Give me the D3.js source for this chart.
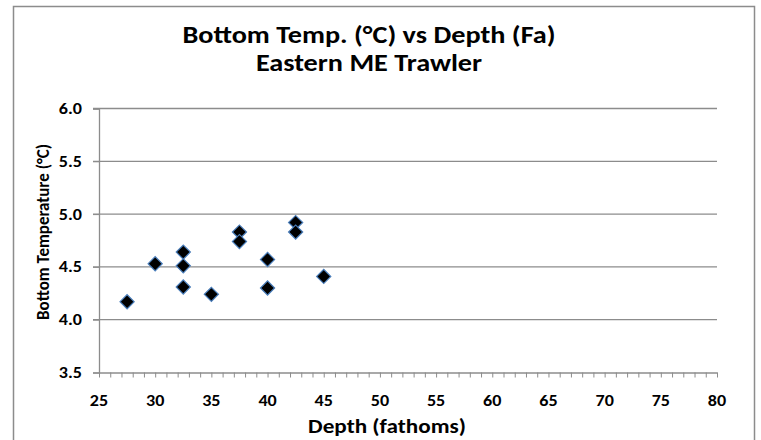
<!DOCTYPE html>
<html>
<head>
<meta charset="utf-8">
<script src="https://cdn.jsdelivr.net/npm/d3@7"></script>
<style>
  body { margin: 0; background: #fff; }
  text { font-family: Carlito, Calibri, "Open Sans", sans-serif; font-weight: bold; fill: #000; }
</style>
</head>
<body>
<svg width="761" height="440"></svg>
<script>
// data
const depth = [27.5, 30, 32.5, 32.5, 32.5, 35, 37.5, 37.5, 40, 40, 42.5, 42.5, 45];
const temp  = [4.17, 4.53, 4.64, 4.51, 4.31, 4.24, 4.83, 4.74, 4.57, 4.30, 4.92, 4.83, 4.41];
const xTicks = [25, 30, 35, 40, 45, 50, 55, 60, 65, 70, 75, 80];
const yTicks = [3.5, 4.0, 4.5, 5.0, 5.5, 6.0];

const sx = 1.13; // the reference text is a bit wider than it is tall

const svg = d3.select('svg');

// outer chart border
svg.append('rect')
    .attr('x', 13.5).attr('y', 6.5)
    .attr('width', 741).attr('height', 440)
    .style('fill', 'none')
    .style('stroke', '#8c8c8c')
    .style('stroke-width', 1.5);

const x = d3.scaleLinear().domain([25, 80]).range([99, 717]);
const y = d3.scaleLinear().domain([3.5, 6.0]).range([372.5, 108.5]);

// gridlines
svg.append('g')
    .selectAll('line')
    .data(yTicks.slice(1))
    .enter().append('line')
    .attr('x1', x(25) - 6).attr('x2', x(80))
    .attr('y1', function (d) { return y(d); })
    .attr('y2', function (d) { return y(d); })
    .style('stroke', '#8c8c8c')
    .style('stroke-width', 1.3);

// y axis
const yAxis = svg.append('g')
    .attr('transform', `translate(${x(25)},0)`)
    .call(d3.axisLeft(y).tickValues(yTicks).tickFormat('').tickSize(6));
yAxis.select('.domain').style('stroke', '#8c8c8c').style('stroke-width', 1.3);
yAxis.selectAll('.tick line').style('stroke', '#8c8c8c');

svg.append('g')
    .selectAll('text')
    .data(yTicks)
    .enter().append('text')
    .attr('transform', function (d) { return `translate(82,${y(d) + 5.5}) scale(${sx},1)`; })
    .style('text-anchor', 'end')
    .style('font-size', '16px')
    .text(d3.format('.1f'));

// x axis, minor ticks every 1
const xAxis = svg.append('g')
    .attr('transform', `translate(0,${y(3.5)})`)
    .call(d3.axisBottom(x).tickValues(d3.range(25, 81, 1)).tickFormat('').tickSize(5).tickSizeOuter(0));
xAxis.select('.domain').style('stroke', '#8c8c8c').style('stroke-width', 1.3);
xAxis.selectAll('.tick line').style('stroke', '#8c8c8c');

svg.append('g')
    .selectAll('text')
    .data(xTicks)
    .enter().append('text')
    .attr('transform', function (d) { return `translate(${x(d)},406) scale(${sx},1)`; })
    .style('text-anchor', 'middle')
    .style('font-size', '16px')
    .text(function (d) { return d; });

// points
const diamond = d3.symbol().type(d3.symbolSquare).size(100);
svg.append('g')
    .selectAll('path')
    .data(depth)
    .enter().append('path')
    .attr('d', diamond)
    .attr('transform', function (d, i) { return `translate(${x(d)},${y(temp[i])}) rotate(45)`; })
    .style('fill', '#000')
    .style('stroke', '#4a7ebb')
    .style('stroke-width', 1.2);

// titles
svg.append('text')
    .attr('transform', `translate(369,43) scale(${sx},1)`)
    .style('text-anchor', 'middle')
    .style('font-size', '25px')
    .text('Bottom Temp. (°C) vs Depth (Fa)');
svg.append('text')
    .attr('transform', `translate(369,71) scale(${sx},1)`)
    .style('text-anchor', 'middle')
    .style('font-size', '25px')
    .text('Eastern ME Trawler');

svg.append('text')
    .attr('transform', `translate(387,433) scale(${sx},1)`)
    .style('text-anchor', 'middle')
    .style('font-size', '20.5px')
    .text('Depth (fathoms)');

svg.append('text')
    .attr('transform', 'translate(49,232) rotate(-90)')
    .style('text-anchor', 'middle')
    .style('font-size', '17px')
    .text('Bottom Temperature (°C)');
</script>
</body>
</html>
